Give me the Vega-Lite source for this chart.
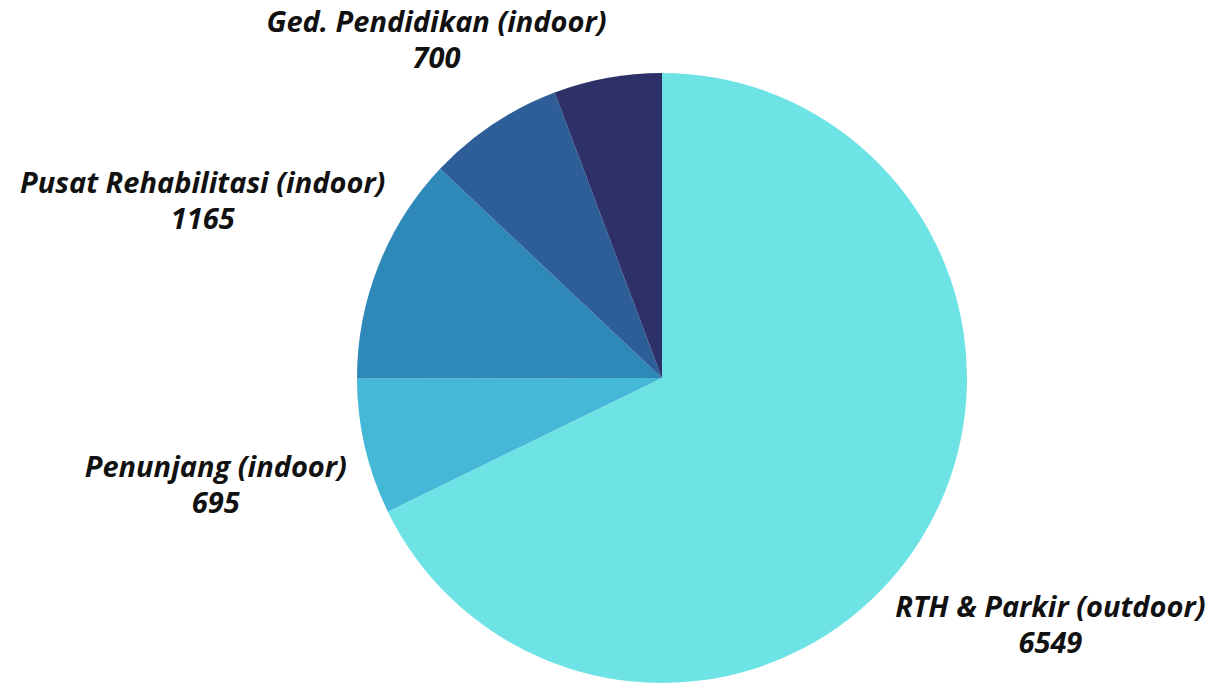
{
  "$schema": "https://vega.github.io/schema/vega-lite/v6.json",
  "width": 610,
  "height": 610,
  "autosize": "none",
  "padding": {"left": 357, "top": 73, "right": 253, "bottom": 1},
  "background": "white",
  "config": {"view": {"stroke": null}},
  "data": {
    "values": [
      {"name": "RTH & Parkir (outdoor)", "value": 6549, "order": 1},
      {"name": "Penunjang (indoor)", "value": 695, "order": 2},
      {"name": "Pusat Rehabilitasi (indoor)", "value": 1165, "order": 3},
      {"name": "Ged. Pendidikan (indoor)", "value": 700, "order": 4},
      {"name": "-", "value": 553, "order": 5}
    ]
  },
  "encoding": {
    "theta": {"field": "value", "type": "quantitative", "stack": true},
    "order": {"field": "order", "type": "quantitative", "sort": "ascending"}
  },
  "layer": [
    {
      "mark": {"type": "arc"},
      "encoding": {
        "color": {
          "field": "name",
          "type": "nominal",
          "scale": {
            "domain": ["RTH & Parkir (outdoor)", "Penunjang (indoor)", "Pusat Rehabilitasi (indoor)", "Ged. Pendidikan (indoor)", "-"],
            "range": ["#6ee3e6", "#44b8d6", "#2e89b9", "#2d5e98", "#2d3168"]
          },
          "legend": null
        }
      }
    },
    {
      "mark": {"type": "text", "radius": 458, "dy": -13, "font": "Open Sans", "fontSize": 29, "fontWeight": "bold", "fontStyle": "italic", "color": "#111111", "align": "center", "baseline": "middle"},
      "encoding": {
        "text": {"condition": {"test": "datum.name === 'RTH & Parkir (outdoor)' || datum.name === 'Penunjang (indoor)'", "field": "name", "type": "nominal"}, "value": ""}
      }
    },
    {
      "mark": {"type": "text", "radius": 458, "dy": 23, "font": "Open Sans", "fontSize": 29, "fontWeight": "bold", "fontStyle": "italic", "color": "#111111", "align": "center", "baseline": "middle"},
      "encoding": {
        "text": {"condition": {"test": "datum.name === 'RTH & Parkir (outdoor)' || datum.name === 'Penunjang (indoor)'", "field": "value", "type": "quantitative", "format": "d"}, "value": ""}
      }
    },
    {
      "mark": {"type": "text", "radius": 494, "dy": -12.5, "font": "Open Sans", "fontSize": 29, "fontWeight": "bold", "fontStyle": "italic", "color": "#111111", "align": "center", "baseline": "middle"},
      "encoding": {
        "text": {"condition": {"test": "datum.name === 'Pusat Rehabilitasi (indoor)'", "field": "name", "type": "nominal"}, "value": ""}
      }
    },
    {
      "mark": {"type": "text", "radius": 494, "dy": 23.5, "font": "Open Sans", "fontSize": 29, "fontWeight": "bold", "fontStyle": "italic", "color": "#111111", "align": "center", "baseline": "middle"},
      "encoding": {
        "text": {"condition": {"test": "datum.name === 'Pusat Rehabilitasi (indoor)'", "field": "value", "type": "quantitative", "format": "d"}, "value": ""}
      }
    },
    {
      "mark": {"type": "text", "radius": 407, "dy": -16.5, "font": "Open Sans", "fontSize": 29, "fontWeight": "bold", "fontStyle": "italic", "color": "#111111", "align": "center", "baseline": "middle"},
      "encoding": {
        "text": {"condition": {"test": "datum.name === 'Ged. Pendidikan (indoor)'", "field": "name", "type": "nominal"}, "value": ""}
      }
    },
    {
      "mark": {"type": "text", "radius": 407, "dy": 19.5, "font": "Open Sans", "fontSize": 29, "fontWeight": "bold", "fontStyle": "italic", "color": "#111111", "align": "center", "baseline": "middle"},
      "encoding": {
        "text": {"condition": {"test": "datum.name === 'Ged. Pendidikan (indoor)'", "field": "value", "type": "quantitative", "format": "d"}, "value": ""}
      }
    }
  ]
}
